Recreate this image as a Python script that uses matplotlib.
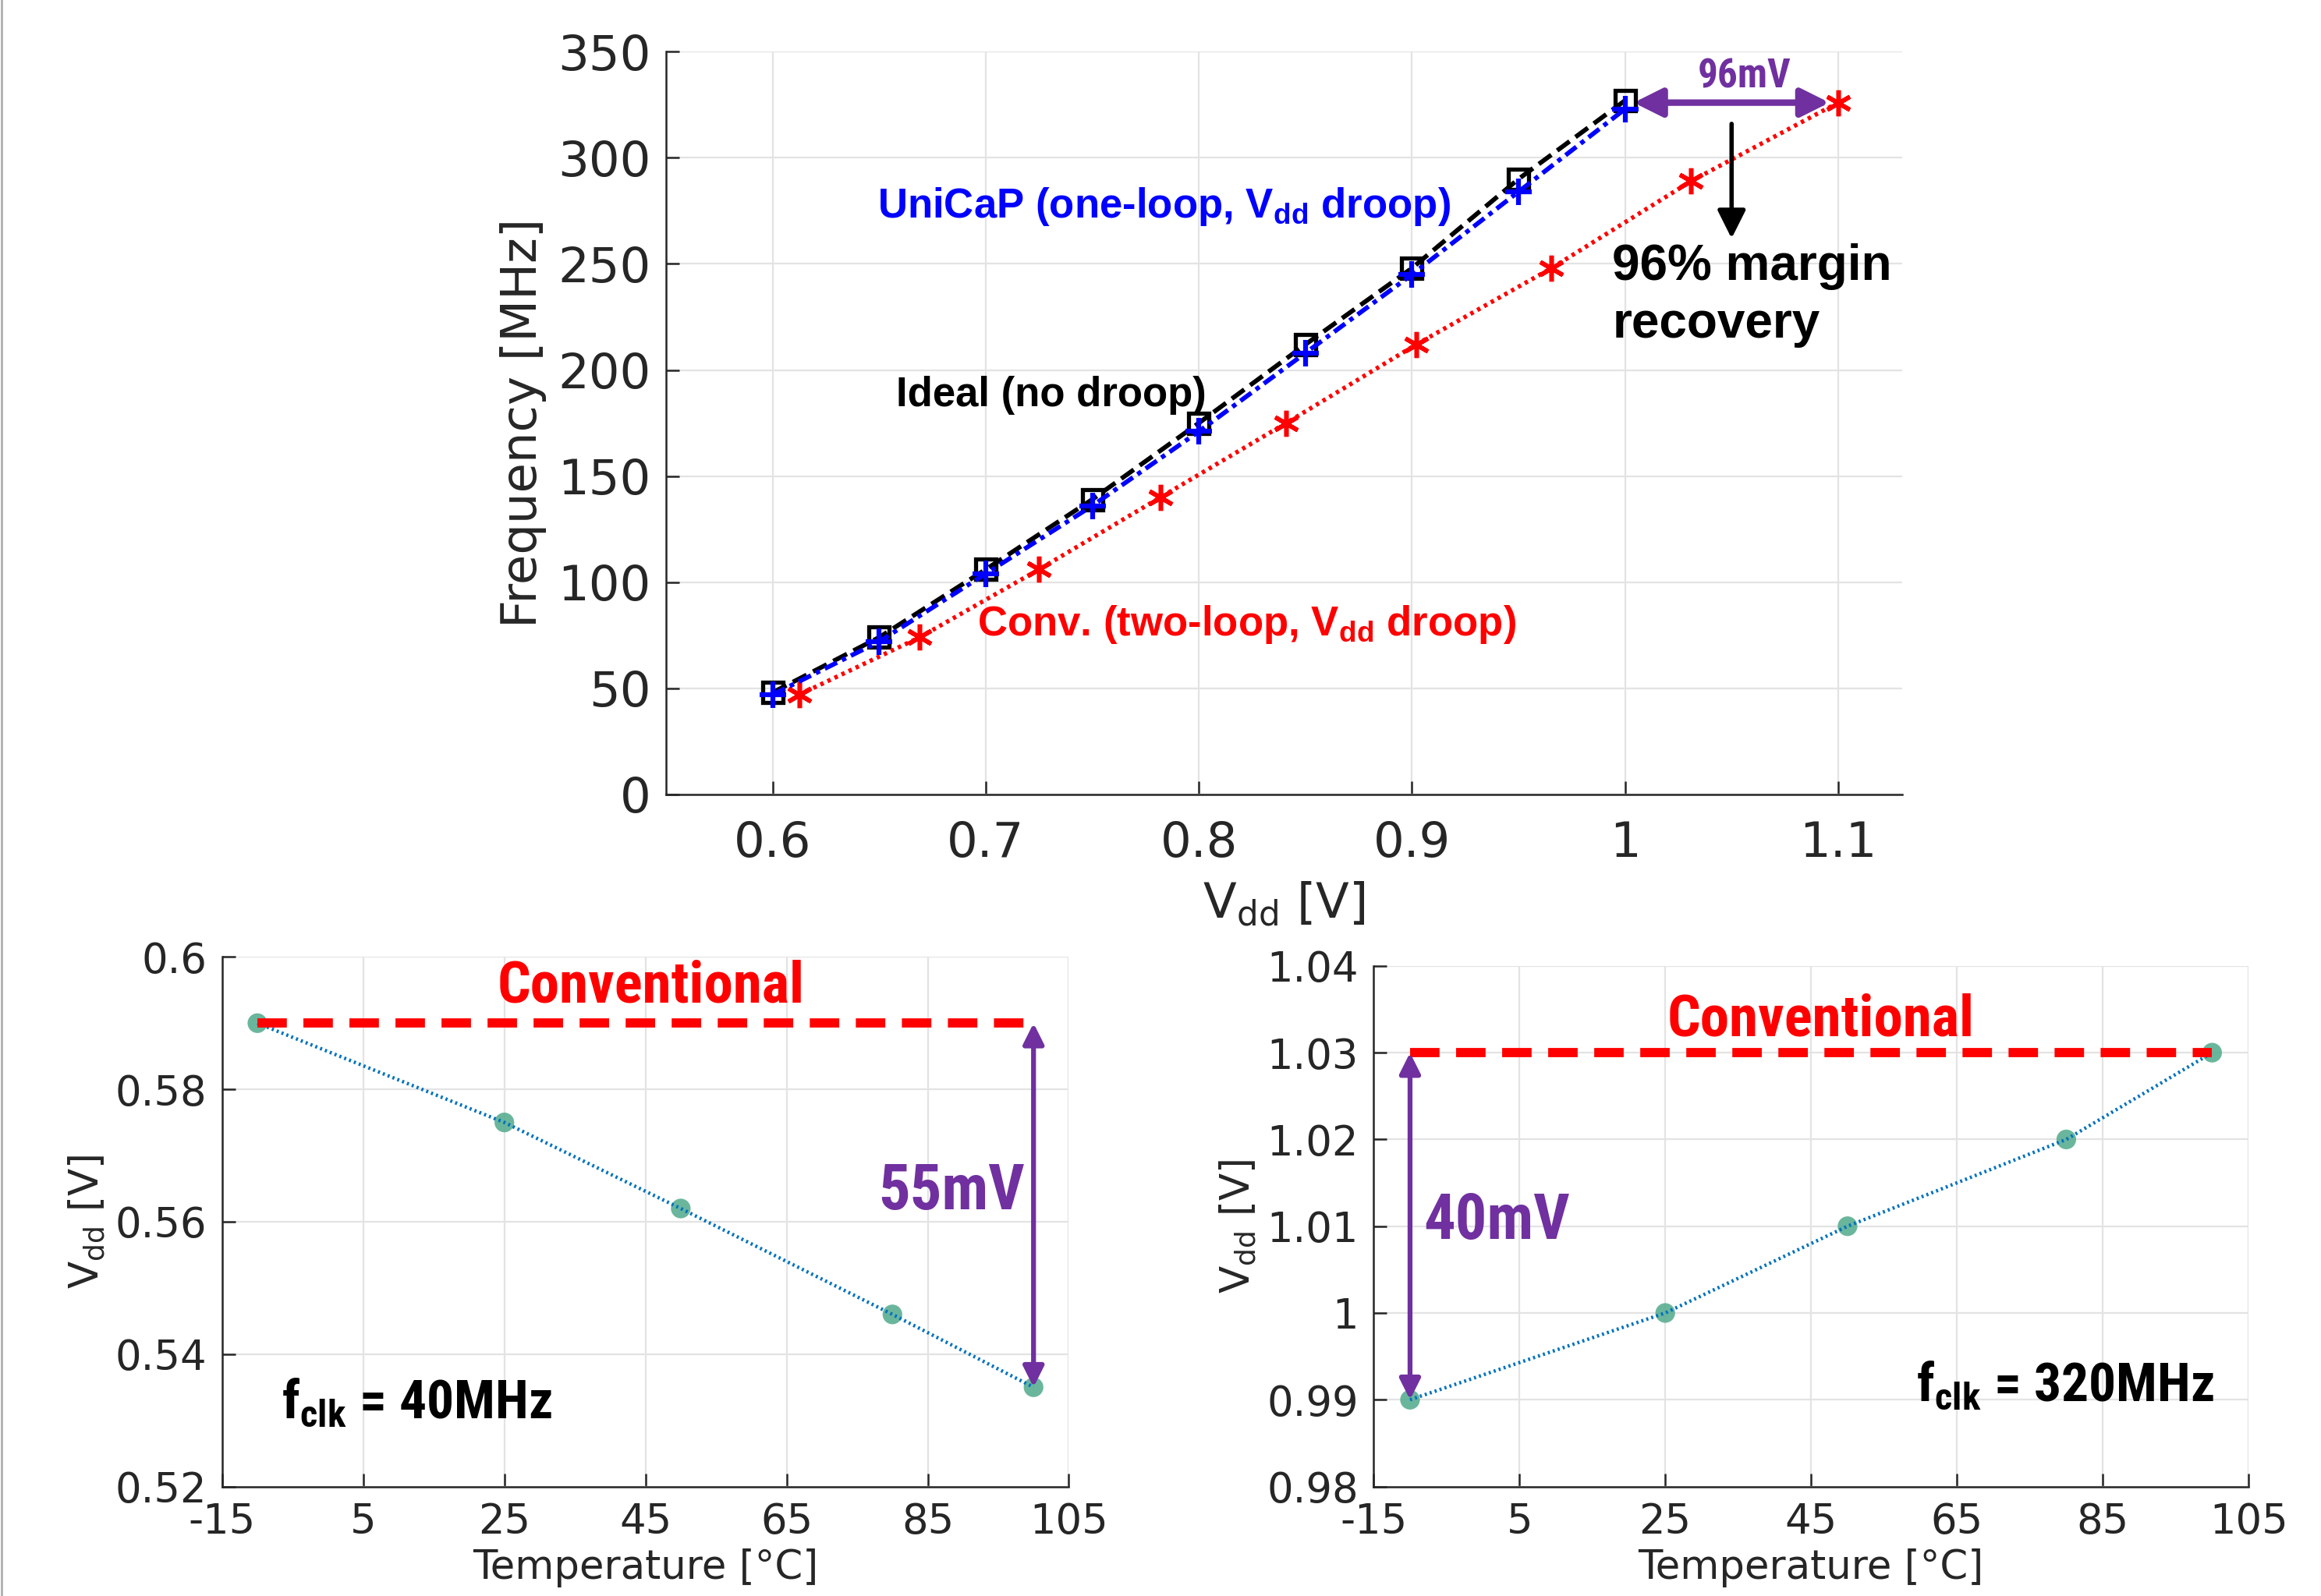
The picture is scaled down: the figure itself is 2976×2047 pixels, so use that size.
import numpy as np
import matplotlib.pyplot as plt
from matplotlib import font_manager as fm
from matplotlib.lines import Line2D
from matplotlib.ticker import FuncFormatter


def find_narrow():
    # look for a condensed / narrow bold sans face (like Arial Narrow Bold)
    prefer = ['Liberation Sans Narrow', 'Roboto Condensed', 'Open Sans Condensed',
              'Noto Sans Condensed', 'Open Sans', 'Noto Sans', 'Roboto']
    found = {}
    for f in fm.fontManager.ttflist:
        w = f.weight if isinstance(f.weight, int) else {'bold': 700}.get(f.weight, 400)
        if w < 600:
            continue
        narrow = ('Narrow' in f.name or 'Condensed' in f.name
                  or f.stretch in ('condensed', 'semi-condensed', 'extra-condensed'))
        if narrow:
            found.setdefault(f.name, f.stretch)
    for p in prefer:
        if p in found:
            return p, found[p]
    return None, None


NARROW, STRETCH = find_narrow()
if NARROW is None:
    NARROW, STRETCH, K = 'Liberation Sans', 'normal', 0.86
else:
    K = 1.0

plt.rcParams['font.family'] = ['DejaVu Sans']
plt.rcParams['axes.unicode_minus'] = False
plt.rcParams['mathtext.fontset'] = 'custom'
plt.rcParams['mathtext.rm'] = 'DejaVu Sans'
plt.rcParams['mathtext.bf'] = 'Liberation Sans:bold'
plt.rcParams['mathtext.sf'] = NARROW + ':bold:stretch=' + str(STRETCH)

# top chart data: frequency vs supply voltage
vdd_ideal = [0.60, 0.65, 0.70, 0.75, 0.80, 0.85, 0.90, 0.95, 1.00]
f_ideal = [48, 74, 106, 139, 175, 212, 248, 290, 327]
vdd_unicap = [0.60, 0.65, 0.70, 0.75, 0.80, 0.85, 0.90, 0.95, 1.00]
f_unicap = [47, 72, 104, 136, 171, 208, 245, 284, 323]
vdd_conv = [0.6125, 0.669, 0.725, 0.782, 0.841, 0.902, 0.9655, 1.031, 1.10]
f_conv = [47, 74, 106, 140, 175, 212, 248, 289, 326]

# bottom charts data: Vdd vs temperature
temp = [-10, 25, 50, 80, 100]
vdd_40mhz = [0.590, 0.575, 0.562, 0.546, 0.535]
vdd_320mhz = [0.990, 1.000, 1.010, 1.020, 1.030]
conv_40mhz = 0.590
conv_320mhz = 1.030

PURPLE = '#7030A0'
DARK = '#262626'
GRID = '#e3e3e3'
DOT_BLUE = '#0072BD'
MARK = '#5aae92'

fmt = FuncFormatter(lambda v, p: '%g' % round(v, 4))
narrow = dict(family=NARROW, stretch=STRETCH, fontweight='bold')

fig = plt.figure(figsize=(29.76, 20.47), dpi=100)


def style(ax, size, pad):
    for s in ['top', 'right']:
        ax.spines[s].set_visible(False)
    for s in ['left', 'bottom']:
        ax.spines[s].set_color(DARK)
        ax.spines[s].set_linewidth(1.8)
    ax.grid(True, color=GRID, lw=1.6)
    ax.set_axisbelow(True)
    ax.tick_params(direction='in', length=12, width=1.8, colors=DARK,
                   labelsize=size, pad=14)
    ax.tick_params(axis='x', pad=pad)


# ---- top: frequency vs Vdd
ax = fig.add_axes([0.287, 0.5023, 0.5325, 0.4653])
style(ax, 45, 24)
ax.plot(vdd_ideal, f_ideal, color='black', ls=(0, (3.4, 1.6)), lw=4.2,
        marker='s', ms=19, mfc='none', mec='black', mew=3.8, zorder=3)
ax.plot(vdd_unicap, f_unicap, color='blue', ls=(0, (3, 1.2, 1, 1.2)), lw=4.2,
        marker='+', ms=24, mew=4.5, zorder=4)
ax.plot(vdd_conv, f_conv, color='red', ls=(0, (0.8, 1.0)), lw=4,
        marker=(6, 2, 0), ms=24, mew=4, zorder=3)
ax.set_xlim(0.55, 1.13)
ax.set_ylim(0, 350)
ax.set_xticks([0.6, 0.7, 0.8, 0.9, 1.0, 1.1])
ax.set_yticks(range(0, 351, 50))
ax.xaxis.set_major_formatter(fmt)
ax.set_xlabel(r'V$_{\mathrm{dd}}$ [V]', fontsize=45, color=DARK, labelpad=12)
ax.set_ylabel('Frequency [MHz]', fontsize=45, color=DARK, labelpad=10)

ax.annotate('', xy=(1.0, 326), xytext=(1.1, 326),
            arrowprops=dict(arrowstyle='<|-|>', color=PURPLE, lw=6,
                            mutation_scale=55, shrinkA=8, shrinkB=8))
ax.text(1.056, 338, '96mV', color=PURPLE, fontsize=37 * K, ha='center',
        va='center', **narrow)
ax.annotate('', xy=(1.05, 262), xytext=(1.05, 316),
            arrowprops=dict(arrowstyle='-|>', color='black', lw=4,
                            mutation_scale=55, shrinkA=0, shrinkB=0))
ax.text(0.994, 235, '96% margin\nrecovery', color='black', fontsize=46,
        fontweight='bold', family='Liberation Sans', ha='left', va='center',
        linespacing=1.3)
ax.text(0.649, 277, r'UniCaP (one-loop, V$_{\mathbf{dd}}$ droop)', color='blue',
        fontsize=38, fontweight='bold', family='Liberation Sans', va='center')
ax.text(0.658, 188, 'Ideal (no droop)', color='black', fontsize=38,
        fontweight='bold', family='Liberation Sans', va='center')
ax.text(0.696, 80, r'Conv. (two-loop, V$_{\mathbf{dd}}$ droop)', color='red',
        fontsize=38, fontweight='bold', family='Liberation Sans', va='center')


# ---- bottom charts
def bottom(rect, vdd, conv, ylim, yticks):
    b = fig.add_axes(rect)
    style(b, 38, 14)
    b.plot(temp, vdd, color=DOT_BLUE, ls=(0, (0.6, 0.9)), lw=3.2, zorder=3)
    b.scatter(temp, vdd, s=330, color=MARK, alpha=0.9, edgecolors='none', zorder=2)
    b.plot([temp[0], temp[-1]], [conv, conv], color='red', lw=8.5,
           ls=(0, (3.2, 1.8)), zorder=4)
    b.set_xlim(-15, 105)
    b.set_xticks(range(-15, 106, 20))
    b.set_ylim(*ylim)
    b.set_yticks(yticks)
    b.yaxis.set_major_formatter(fmt)
    b.set_xlabel('Temperature [°C]', fontsize=37, color=DARK, labelpad=6)
    b.set_ylabel(r'V$_{\mathrm{dd}}$ [V]', fontsize=37, color=DARK, labelpad=8)
    return b


b1 = bottom([0.0957, 0.0686, 0.3648, 0.3318], vdd_40mhz, conv_40mhz,
            (0.52, 0.60), np.arange(0.52, 0.6001, 0.02))
b1.annotate('', xy=(100, conv_40mhz), xytext=(100, vdd_40mhz[-1]),
            arrowprops=dict(arrowstyle='<|-|>', color=PURPLE, lw=4.5,
                            mutation_scale=40, shrinkA=0, shrinkB=0), zorder=5)
b1.text(45.8, 0.5955, 'Conventional', color='red', fontsize=54 * K,
        ha='center', va='center', **narrow)
b1.text(88.4, 0.5645, '55mV', color=PURPLE, fontsize=58 * K,
        ha='center', va='center', **narrow)
b1.text(-6.6, 0.5327, r'f$_{\mathsf{clk}}$ = 40MHz', color='black',
        fontsize=50 * K, ha='left', va='center', **narrow)

b2 = bottom([0.5918, 0.0686, 0.377, 0.3262], vdd_320mhz, conv_320mhz,
            (0.98, 1.04), np.arange(0.98, 1.0401, 0.01))
b2.annotate('', xy=(-10, conv_320mhz), xytext=(-10, vdd_320mhz[0]),
            arrowprops=dict(arrowstyle='<|-|>', color=PURPLE, lw=4.5,
                            mutation_scale=40, shrinkA=0, shrinkB=0), zorder=5)
b2.text(46.3, 1.0337, 'Conventional', color='red', fontsize=54 * K,
        ha='center', va='center', **narrow)
b2.text(-8.1, 1.0105, '40mV', color=PURPLE, fontsize=58 * K,
        ha='left', va='center', **narrow)
b2.text(100.3, 0.9916, r'f$_{\mathsf{clk}}$ = 320MHz', color='black',
        fontsize=50 * K, ha='right', va='center', **narrow)

# thin frame line at the left edge of the image
fig.add_artist(Line2D([0.0008, 0.0008], [0, 1], color='#b0b0b0', lw=2,
                      transform=fig.transFigure))

fig.savefig('out.png', dpi=100)
